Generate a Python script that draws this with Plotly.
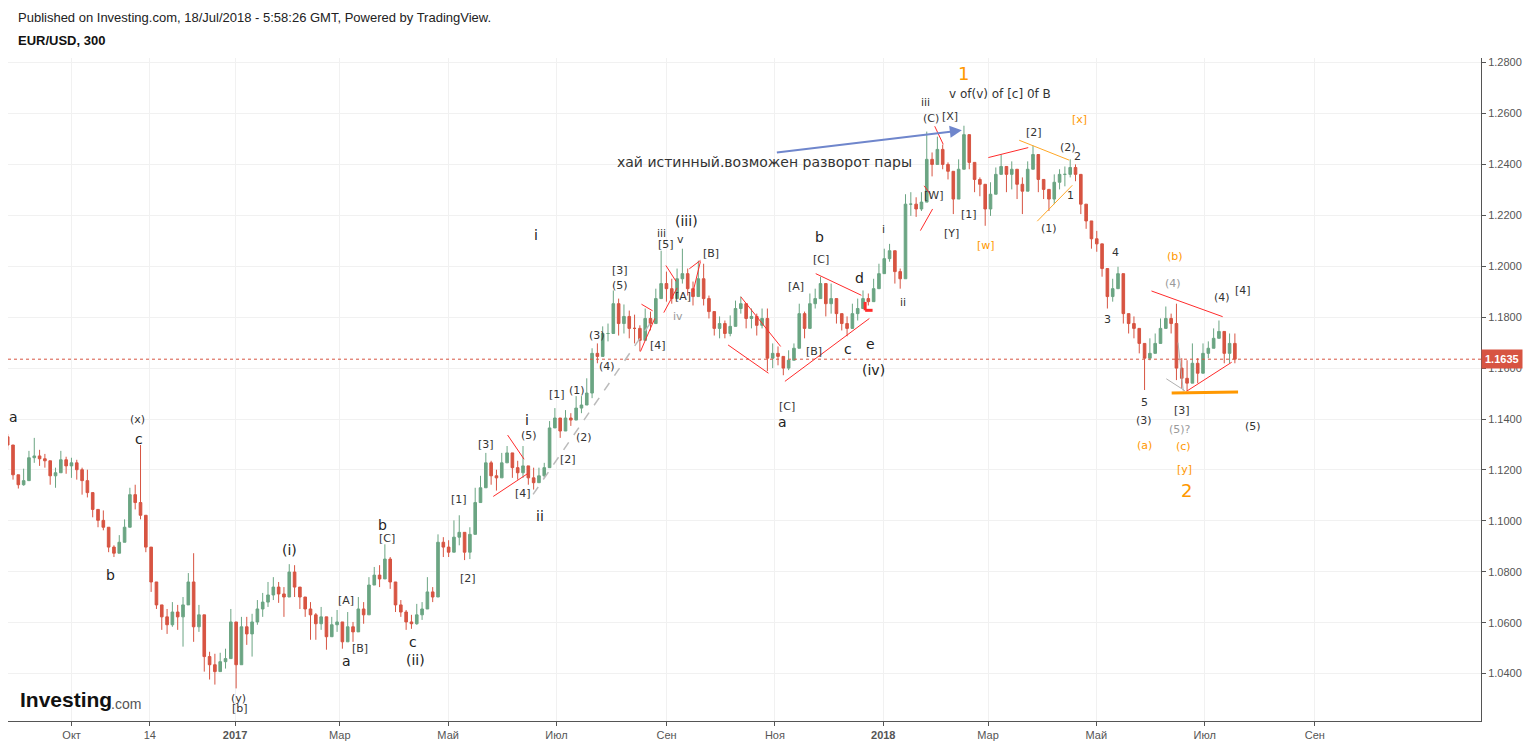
import pandas as pd
import plotly.graph_objects as go

# EUR/USD, 300 min bars (resampled by eye, one bar ~ every 3 days)
FIRST_BAR = "2016-08-26"
LAST_BAR = "2018-07-18"
FIRST_OPEN = 1.1330
LAST_PRICE = 1.1635

CLOSES = [
    1.1298, 1.1181, 1.1142, 1.1158, 1.1248, 1.1255, 1.1244, 1.1236, 1.1177, 1.1189,
    1.1240, 1.1216, 1.1228, 1.1201, 1.1158, 1.1111, 1.1045, 1.1002, 1.0975, 1.0897,
    1.0873, 1.0916, 1.0975, 1.1103, 1.1072, 1.1022, 1.0897, 1.0760, 1.0670, 1.0623,
    1.0592, 1.0642, 1.0623, 1.0670, 1.0760, 1.0584, 1.0631, 1.0467, 1.0435, 1.0408,
    1.0447, 1.0459, 1.0603, 1.0435, 1.0584, 1.0556, 1.0603, 1.0654, 1.0681, 1.0709,
    1.0740, 1.0713, 1.0701, 1.0799, 1.0740, 1.0701, 1.0654, 1.0631, 1.0596, 1.0623,
    1.0545, 1.0592, 1.0603, 1.0525, 1.0584, 1.0564, 1.0654, 1.0631, 1.0748, 1.0787,
    1.0772, 1.0850, 1.0760, 1.0670, 1.0642, 1.0603, 1.0596, 1.0631, 1.0654, 1.0721,
    1.0701, 1.0916, 1.0897, 1.0877, 1.0936, 1.0955, 1.0877, 1.0947, 1.1072, 1.1130,
    1.1228, 1.1177, 1.1169, 1.1228, 1.1267, 1.1209, 1.1189, 1.1216, 1.1169, 1.1150,
    1.1177, 1.1209, 1.1365, 1.1404, 1.1353, 1.1404, 1.1396, 1.1443, 1.1455, 1.1502,
    1.1658, 1.1646, 1.1736, 1.1736, 1.1853, 1.1775, 1.1803, 1.1756, 1.1756, 1.1709,
    1.1795, 1.1775, 1.1873, 1.1932, 1.1912, 1.1873, 1.1951, 1.1971, 1.1912, 1.1881,
    1.1951, 1.1873, 1.1822, 1.1756, 1.1775, 1.1736, 1.1764, 1.1834, 1.1853, 1.1795,
    1.1803, 1.1768, 1.1795, 1.1639, 1.1658, 1.1646, 1.1600, 1.1631, 1.1678, 1.1814,
    1.1756, 1.1853, 1.1873, 1.1932, 1.1853, 1.1873, 1.1814, 1.1775, 1.1756, 1.1814,
    1.1834, 1.1873, 1.1861, 1.1912, 1.1971, 1.2030, 1.2061, 1.1979, 1.1951, 1.2244,
    1.2244, 1.2225, 1.2252, 1.2420, 1.2400, 1.2459, 1.2400, 1.2373, 1.2264, 1.2381,
    1.2517, 1.2408, 1.2341, 1.2322, 1.2225, 1.2283, 1.2361, 1.2392, 1.2361, 1.2381,
    1.2322, 1.2295, 1.2381, 1.2439, 1.2341, 1.2302, 1.2264, 1.2330, 1.2361, 1.2361,
    1.2388, 1.2361, 1.2244, 1.2178, 1.2108, 1.2088, 1.1991, 1.1881, 1.1912, 1.1971,
    1.1814, 1.1775, 1.1756, 1.1697, 1.1639, 1.1658, 1.1697, 1.1756, 1.1795, 1.1775,
    1.1600, 1.1560, 1.1541, 1.1619, 1.1580, 1.1658, 1.1678, 1.1717, 1.1744, 1.1658,
    1.1697, 1.1635,
]

HIGHS = [
    1.1341, 1.1209, 1.1177, 1.1205, 1.1275, 1.1326, 1.1279, 1.1263, 1.1220, 1.1209,
    1.1275, 1.1252, 1.1248, 1.1240, 1.1209, 1.1201, 1.1072, 1.1045, 1.1041, 1.0963,
    1.0904, 1.0944, 1.1006, 1.1130, 1.1142, 1.1298, 1.0975, 1.0819, 1.0721, 1.0662,
    1.0654, 1.0681, 1.0670, 1.0701, 1.0795, 1.0873, 1.0670, 1.0545, 1.0486, 1.0478,
    1.0482, 1.0498, 1.0654, 1.0545, 1.0623, 1.0623, 1.0635, 1.0689, 1.0717, 1.0760,
    1.0779, 1.0760, 1.0740, 1.0830, 1.0826, 1.0729, 1.0701, 1.0681, 1.0638, 1.0662,
    1.0603, 1.0623, 1.0650, 1.0584, 1.0642, 1.0603, 1.0701, 1.0681, 1.0779, 1.0819,
    1.0826, 1.0908, 1.0858, 1.0709, 1.0689, 1.0650, 1.0631, 1.0674, 1.0681, 1.0779,
    1.0740, 1.0947, 1.0936, 1.0924, 1.1002, 1.1022, 1.0916, 1.0975, 1.1130, 1.1177,
    1.1267, 1.1236, 1.1201, 1.1267, 1.1294, 1.1267, 1.1236, 1.1294, 1.1216, 1.1209,
    1.1209, 1.1228, 1.1392, 1.1443, 1.1392, 1.1435, 1.1423, 1.1490, 1.1490, 1.1560,
    1.1678, 1.1697, 1.1764, 1.1775, 1.1905, 1.1873, 1.1850, 1.1826, 1.1810, 1.1768,
    1.1834, 1.1822, 1.1912, 1.2061, 1.1979, 1.1951, 1.1991, 1.2069, 1.1991, 1.1940,
    1.2022, 1.2010, 1.1885, 1.1814, 1.1803, 1.1787, 1.1807, 1.1865, 1.1881, 1.1834,
    1.1834, 1.1814, 1.1834, 1.1834, 1.1697, 1.1685, 1.1646, 1.1670, 1.1697, 1.1853,
    1.1822, 1.1893, 1.1912, 1.1959, 1.1912, 1.1932, 1.1853, 1.1814, 1.1803, 1.1853,
    1.1873, 1.1905, 1.1893, 1.1951, 1.2010, 1.2069, 1.2088, 1.2010, 1.1991, 1.2283,
    1.2291, 1.2271, 1.2291, 1.2529, 1.2447, 1.2509, 1.2478, 1.2408, 1.2302, 1.2420,
    1.2552, 1.2439, 1.2381, 1.2349, 1.2252, 1.2330, 1.2388, 1.2439, 1.2392, 1.2412,
    1.2361, 1.2349, 1.2412, 1.2474, 1.2381, 1.2341, 1.2302, 1.2361, 1.2381, 1.2392,
    1.2420, 1.2400, 1.2302, 1.2225, 1.2155, 1.2139, 1.2030, 1.1932, 1.1951, 1.1998,
    1.1873, 1.1814, 1.1803, 1.1744, 1.1697, 1.1717, 1.1736, 1.1795, 1.1842, 1.1814,
    1.1853, 1.1639, 1.1631, 1.1697, 1.1639, 1.1697, 1.1705, 1.1756, 1.1787, 1.1717,
    1.1736, 1.1736,
]

LOWS = [
    1.1279, 1.1162, 1.1127, 1.1138, 1.1209, 1.1228, 1.1216, 1.1209, 1.1142, 1.1130,
    1.1209, 1.1185, 1.1169, 1.1162, 1.1103, 1.1092, 1.1014, 1.0975, 1.0963, 1.0877,
    1.0858, 1.0889, 1.0936, 1.1053, 1.1045, 1.1006, 1.0877, 1.0721, 1.0654, 1.0572,
    1.0556, 1.0584, 1.0572, 1.0506, 1.0701, 1.0525, 1.0564, 1.0408, 1.0377, 1.0357,
    1.0416, 1.0420, 1.0467, 1.0342, 1.0467, 1.0513, 1.0467, 1.0592, 1.0623, 1.0662,
    1.0689, 1.0678, 1.0623, 1.0740, 1.0701, 1.0654, 1.0623, 1.0533, 1.0533, 1.0572,
    1.0494, 1.0553, 1.0564, 1.0498, 1.0545, 1.0525, 1.0592, 1.0596, 1.0701, 1.0752,
    1.0740, 1.0819, 1.0733, 1.0642, 1.0623, 1.0572, 1.0576, 1.0592, 1.0611, 1.0689,
    1.0681, 1.0826, 1.0858, 1.0858, 1.0897, 1.0904, 1.0846, 1.0850, 1.1006, 1.1084,
    1.1177, 1.1142, 1.1119, 1.1181, 1.1228, 1.1169, 1.1162, 1.1169, 1.1142, 1.1123,
    1.1150, 1.1169, 1.1294, 1.1365, 1.1326, 1.1357, 1.1373, 1.1404, 1.1423, 1.1474,
    1.1482, 1.1619, 1.1717, 1.1705, 1.1795, 1.1728, 1.1736, 1.1717, 1.1697, 1.1666,
    1.1728, 1.1748, 1.1783, 1.1893, 1.1861, 1.1853, 1.1901, 1.1932, 1.1885, 1.1846,
    1.1912, 1.1846, 1.1795, 1.1728, 1.1717, 1.1717, 1.1725, 1.1783, 1.1814, 1.1756,
    1.1756, 1.1728, 1.1756, 1.1588, 1.1600, 1.1611, 1.1572, 1.1592, 1.1646, 1.1756,
    1.1717, 1.1803, 1.1834, 1.1885, 1.1803, 1.1814, 1.1775, 1.1748, 1.1725, 1.1775,
    1.1787, 1.1834, 1.1846, 1.1865, 1.1932, 1.1998, 1.2018, 1.1932, 1.1912, 1.2108,
    1.2198, 1.2194, 1.2217, 1.2381, 1.2353, 1.2412, 1.2381, 1.2341, 1.2205, 1.2314,
    1.2470, 1.2381, 1.2291, 1.2275, 1.2159, 1.2198, 1.2302, 1.2373, 1.2291, 1.2302,
    1.2264, 1.2205, 1.2322, 1.2388, 1.2291, 1.2264, 1.2217, 1.2244, 1.2302, 1.2314,
    1.2349, 1.2334, 1.2205, 1.2147, 1.2069, 1.2057, 1.1959, 1.1834, 1.1861, 1.1932,
    1.1775, 1.1736, 1.1717, 1.1658, 1.1514, 1.1631, 1.1658, 1.1709, 1.1756, 1.1736,
    1.1553, 1.1521, 1.1510, 1.1580, 1.1541, 1.1619, 1.1639, 1.1678, 1.1717, 1.1619,
    1.1619, 1.1619,
]

X_TICKS = ["2016-10-01", "2016-11-14", "2017-01-01", "2017-03-01", "2017-05-01",
           "2017-07-01", "2017-09-01", "2017-11-01", "2018-01-01", "2018-03-01",
           "2018-05-01", "2018-07-01", "2018-09-01"]
X_TICK_TEXT = ["Окт", "14", "<b>2017</b>", "Мар", "Май", "Июл", "Сен", "Ноя",
               "<b>2018</b>", "Мар", "Май", "Июл", "Сен"]
Y_TICKS = [1.04, 1.06, 1.08, 1.10, 1.12, 1.14, 1.16, 1.18, 1.20, 1.22, 1.24, 1.26, 1.28]

GREEN = "#6ba583"
RED = "#d75442"
ORANGE = "#ff9800"
DRAW_RED = "#ff2b2b"

# wave labels: text, bar position, price, style
LABELS = [
    ("a", 1.0, 1.1408, "L"), ("(x)", 24.5, 1.1400, "S"), ("c", 24.7, 1.1322, "L"),
    ("b", 19.3, 1.0787, "L"), ("(i)", 53.1, 1.0885, "L"),
    ("(y)", 43.5, 1.0303, "S"), ("[b]", 43.7, 1.0264, "S"),
    ("b", 70.6, 1.0982, "L"), ("[C]", 71.4, 1.0932, "S"), ("[A]", 63.7, 1.0686, "S"),
    ("[B]", 66.3, 1.0498, "S"), ("a", 63.7, 1.0451, "L"), ("c", 76.3, 1.0525, "L"),
    ("(ii)", 76.7, 1.0455, "L"), ("[1]", 84.9, 1.1084, "S"), ("[2]", 86.6, 1.0775, "S"),
    ("[3]", 90.0, 1.1299, "S"), ("i", 97.7, 1.1396, "L"), ("(5)", 98.1, 1.1334, "S"),
    ("[4]", 97.0, 1.1107, "S"), ("ii", 100.2, 1.1021, "L"), ("[2]", 105.5, 1.1240, "S"),
    ("[1]", 103.4, 1.1498, "S"), ("(1)", 107.2, 1.1514, "S"), ("(2)", 108.5, 1.1326, "S"),
    ("i", 99.4, 1.2123, "L"), ("(3)", 110.9, 1.1728, "S"), ("(4)", 112.8, 1.1607, "S"),
    ("[3]", 115.2, 1.1982, "S"), ("(5)", 115.2, 1.1924, "S"), ("[4]", 122.4, 1.1689, "S"),
    ("iii", 123.1, 1.2128, "S"), ("[5]", 124.0, 1.2086, "S"), ("(iii)", 127.7, 1.2178, "L"),
    ("v", 126.7, 1.2104, "S"), ("iv", 126.2, 1.1803, "G"), ("[A]", 127.1, 1.1881, "S"),
    ("[B]", 132.4, 1.2049, "S"), ("b", 152.9, 1.2115, "L"), ("[C]", 153.1, 1.2025, "S"),
    ("[A]", 148.4, 1.1920, "S"), ("d", 160.4, 1.1955, "L"), ("[B]", 151.8, 1.1666, "S"),
    ("c", 158.2, 1.1674, "L"), ("e", 162.5, 1.1693, "L"), ("(iv)", 162.9, 1.1592, "L"),
    ("[C]", 146.7, 1.1451, "S"), ("a", 145.9, 1.1389, "L"), ("i", 164.9, 1.2143, "S"),
    ("ii", 168.5, 1.1857, "S"), ("1", 180.0, 1.2756, "OB"),
    ("v of(v) of [c] 0f B", 186.8, 1.2678, "M"),
    ("iii", 172.8, 1.2643, "S"), ("(C)", 173.8, 1.2580, "S"), ("[X]", 177.4, 1.2588, "S"),
    ("[W]", 174.3, 1.2279, "S"), ("[1]", 180.9, 1.2205, "S"), ("[Y]", 177.7, 1.2127, "S"),
    ("[w]", 184.1, 1.2080, "O"), ("[2]", 193.2, 1.2525, "S"), ("[x]", 201.8, 1.2576, "O"),
    ("(2)", 199.6, 1.2467, "S"), ("2", 201.3, 1.2432, "S"), ("1", 200.1, 1.2279, "S"),
    ("(1)", 196.0, 1.2150, "S"), ("4", 208.6, 1.2053, "S"), ("3", 207.1, 1.1791, "S"),
    ("(b)", 219.7, 1.2037, "O"), ("(4)", 219.3, 1.1932, "G"), ("(4)", 228.6, 1.1877, "S"),
    ("[4]", 232.5, 1.1904, "S"), ("5", 213.9, 1.1463, "S"), ("(3)", 213.9, 1.1393, "S"),
    ("(a)", 213.9, 1.1295, "O"), ("[3]", 221.0, 1.1432, "S"), ("(5)?", 220.6, 1.1357, "G"),
    ("(c)", 221.4, 1.1291, "O"), ("[y]", 221.6, 1.1201, "O"), ("2", 221.8, 1.1119, "OB"),
    ("(5)", 234.4, 1.1369, "S"),
    ("хай истинный.возможен разворот пары", 142.5, 1.2408, "T"),
]

STYLES = {
    "L": dict(size=14, color="#222222"),
    "S": dict(size=11, color="#333333"),
    "G": dict(size=11, color="#9a9a9a"),
    "O": dict(size=11, color=ORANGE),
    "OB": dict(size=18, color=ORANGE),
    "M": dict(size=12, color="#333333"),
    "T": dict(size=14, color="#333333"),
}

# trend lines drawn on the chart: bar0, price0, bar1, price1, colour, width, dash
LINES = [
    (94.1, 1.1337, 97.2, 1.1242, DRAW_RED, 1, "solid"),
    (91.4, 1.1096, 97.9, 1.1186, DRAW_RED, 1, "solid"),
    (98.9, 1.1104, 121.3, 1.1787, "#bbbbbb", 1.5, "dash"),
    (119.3, 1.1851, 121.4, 1.1825, DRAW_RED, 1, "solid"),
    (119.1, 1.1665, 121.8, 1.1795, DRAW_RED, 1, "solid"),
    (123.9, 1.2003, 125.8, 1.1941, DRAW_RED, 1, "solid"),
    (123.5, 1.1818, 126.0, 1.1915, DRAW_RED, 1, "solid"),
    (128.3, 1.1990, 130.4, 1.2023, DRAW_RED, 1, "solid"),
    (129.0, 1.1899, 130.4, 1.2019, DRAW_RED, 1, "solid"),
    (135.6, 1.1691, 143.2, 1.1580, DRAW_RED, 1, "solid"),
    (138.0, 1.1880, 145.5, 1.1685, DRAW_RED, 1, "solid"),
    (146.3, 1.1548, 162.2, 1.1795, DRAW_RED, 1, "solid"),
    (152.1, 1.1971, 160.7, 1.1886, DRAW_RED, 1, "solid"),
    (161.4, 1.1860, 161.4, 1.1827, DRAW_RED, 3, "solid"),
    (161.4, 1.1827, 162.8, 1.1827, DRAW_RED, 3, "solid"),
    (172.5, 1.2316, 173.7, 1.2283, DRAW_RED, 1, "solid"),
    (171.8, 1.2140, 174.1, 1.2225, DRAW_RED, 1, "solid"),
    (174.5, 1.2550, 176.1, 1.2479, DRAW_RED, 1, "solid"),
    (184.6, 1.2427, 192.1, 1.2466, DRAW_RED, 1, "solid"),
    (190.4, 1.2495, 199.8, 1.2417, "#ffa726", 1, "solid"),
    (193.8, 1.2177, 200.4, 1.2318, "#ffa726", 1, "solid"),
    (215.3, 1.1903, 228.7, 1.1802, DRAW_RED, 1, "solid"),
    (221.9, 1.1509, 230.4, 1.1623, DRAW_RED, 1, "solid"),
    (218.1, 1.1558, 221.6, 1.1511, "#b0b0b0", 1, "solid"),
    (220.3, 1.1700, 221.3, 1.1509, "#b0b0b0", 1, "solid"),
    (219.1, 1.1502, 231.6, 1.1506, ORANGE, 3, "solid"),
]

ARROW = (144.5, 1.2446, 179.6, 1.2534)

times = pd.date_range(FIRST_BAR, LAST_BAR, periods=len(CLOSES))
step = times[1] - times[0]


def bar_time(pos):
    return (times[0] + step * pos).strftime("%Y-%m-%d %H:%M:%S")


opens = [FIRST_OPEN] + CLOSES[:-1]
highs = [max(h, o, c) for h, o, c in zip(HIGHS, opens, CLOSES)]
lows = [min(l, o, c) for l, o, c in zip(LOWS, opens, CLOSES)]

fig = go.Figure(go.Candlestick(
    x=times, open=opens, high=highs, low=lows, close=CLOSES,
    increasing=dict(line=dict(color=GREEN, width=1), fillcolor=GREEN),
    decreasing=dict(line=dict(color=RED, width=1), fillcolor=RED),
    whiskerwidth=0, hoverinfo="skip", name="EUR/USD",
))

shapes = [dict(type="line", xref="paper", x0=0, x1=1, y0=LAST_PRICE, y1=LAST_PRICE,
               line=dict(color=RED, width=1, dash="dot"))]
for b0, p0, b1, p1, col, w, dash in LINES:
    shapes.append(dict(type="line", x0=bar_time(b0), y0=p0, x1=bar_time(b1), y1=p1,
                       line=dict(color=col, width=w, dash=dash)))

annotations = []
for text, pos, price, style in LABELS:
    annotations.append(dict(x=bar_time(pos), y=price, text=text, showarrow=False,
                            xanchor="center", yanchor="middle",
                            font=dict(family="DejaVu Sans", **STYLES[style])))

annotations.append(dict(x=bar_time(ARROW[2]), y=ARROW[3], ax=bar_time(ARROW[0]), ay=ARROW[1],
                        xref="x", yref="y", axref="x", ayref="y", text="", showarrow=True,
                        arrowhead=2, arrowsize=1.2, arrowwidth=2, arrowcolor="#6f86cc"))

annotations += [
    dict(xref="paper", yref="paper", x=0.0054, y=1.0616, xanchor="left", yanchor="middle",
         showarrow=False, font=dict(family="Liberation Sans", size=13, color="#222"),
         text="Published on Investing.com, 18/Jul/2018 - 5:58:26 GMT, Powered by TradingView."),
    dict(xref="paper", yref="paper", x=0.0054, y=1.027, xanchor="left", yanchor="middle",
         showarrow=False, font=dict(family="Liberation Sans", size=13, color="#111"),
         text="<b>EUR/USD, 300</b>"),
    dict(xref="paper", yref="paper", x=0.007, y=0.032, xanchor="left", yanchor="middle",
         showarrow=False, font=dict(family="Liberation Sans", size=21, color="#111"),
         text="<b>Investing</b>"),
    dict(xref="paper", yref="paper", x=0.0685, y=0.026, xanchor="left", yanchor="middle",
         showarrow=False, font=dict(family="Liberation Sans", size=14, color="#555"),
         text=".com"),
    dict(xref="paper", yref="y", x=1, y=LAST_PRICE, xanchor="left", yanchor="middle",
         showarrow=False, bgcolor=RED, borderpad=3,
         font=dict(family="Liberation Sans", size=11, color="white"),
         text="<b>%.4f</b>" % LAST_PRICE),
]

# page has an 8px body margin, so the figure is sized to the remaining area
fig.update_layout(
    width=1517, height=733,
    margin=dict(l=0, r=44, t=50, b=17),
    paper_bgcolor="white", plot_bgcolor="white",
    showlegend=False,
    font=dict(family="Liberation Sans", size=11, color="#555"),
    shapes=shapes, annotations=annotations,
    xaxis=dict(type="date", range=["2016-08-26 04:00", "2018-12-03 14:00"],
               tickvals=X_TICKS, ticktext=X_TICK_TEXT, rangeslider=dict(visible=False),
               showgrid=True, gridcolor="#f1f1f1", zeroline=False,
               showline=True, linecolor="#555", linewidth=1,
               ticks="outside", ticklen=4, tickcolor="#555"),
    yaxis=dict(side="right", range=[1.0214, 1.2818], tickvals=Y_TICKS, tickformat=".4f",
               showgrid=True, gridcolor="#f1f1f1", zeroline=False,
               showline=True, linecolor="#555", linewidth=1,
               ticks="outside", ticklen=4, tickcolor="#555"),
)

fig.write_html("out.html")
